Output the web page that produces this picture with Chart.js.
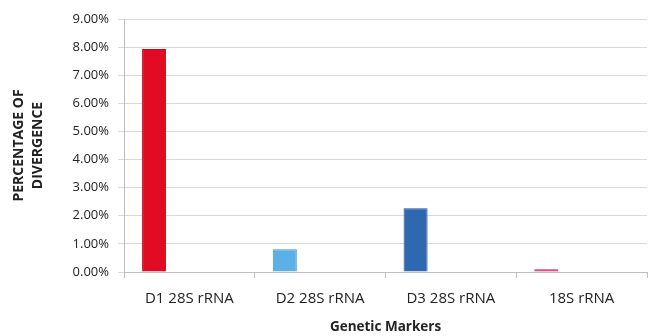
<!DOCTYPE html>
<html>
<head>
<meta charset="utf-8">
<script src="https://cdn.jsdelivr.net/npm/chart.js@4/dist/chart.umd.min.js"></script>
<style>
  html, body { margin: 0; padding: 0; background: #fff; }
  #wrap { width: 649px; height: 336px; }
</style>
</head>
<body>
<div id="wrap"><canvas id="c" width="649" height="336"></canvas></div>
<script>
  // values (percent)
  var markers = ['D1 28S rRNA', 'D2 28S rRNA', 'D3 28S rRNA', '18S rRNA'];
  var divergence = [7.93, 0.81, 2.27, 0.1];
  var barColors = ['#e10c24', '#5cb0e6', '#2d68b0', '#e1236d'];
  var barBorders = ['#c8081d', '#4597cf', '#22548f', '#c81a5c'];

  var font = "'Open Sans', 'Liberation Sans', sans-serif";

  var chart = new Chart(document.getElementById('c').getContext('2d'), {
    type: 'bar',
    data: {
      labels: markers,
      datasets: [
        {
          data: divergence,
          backgroundColor: barColors,
          borderColor: barBorders,
          borderWidth: 1,
          barPercentage: 0.68,
          categoryPercentage: 0.81
        },
        // empty series, as in the original spreadsheet, keep the bars to the left of each slot
        { data: [], barPercentage: 0.68, categoryPercentage: 0.81 },
        { data: [], barPercentage: 0.68, categoryPercentage: 0.81 }
      ]
    },
    options: {
      responsive: false,
      animation: false,
      layout: { padding: { top: 19, right: 2, left: 0, bottom: 0 } },
      plugins: {
        legend: { display: false },
        tooltip: { enabled: false }
      },
      scales: {
        x: {
          grid: {
            drawOnChartArea: false,
            tickLength: 6,
            color: '#bfbfbf'
          },
          border: { color: '#bfbfbf' },
          ticks: {
            color: '#222',
            font: { family: font, size: 15 },
            padding: 12,
            maxRotation: 0
          },
          title: {
            display: true,
            text: 'Genetic Markers',
            color: '#222',
            font: { family: font, size: 13.5, weight: 'bold' },
            padding: { top: 6, bottom: 1 }
          },
          afterFit: function(s) { s.height = 64; }
        },
        y: {
          min: 0,
          max: 9,
          ticks: {
            stepSize: 1,
            color: '#222',
            font: { family: font, size: 13 },
            padding: 9,
            callback: function(v) { return v.toFixed(2) + '%'; }
          },
          grid: {
            color: '#d9d9d9',
            tickLength: 6
          },
          border: { color: '#bfbfbf' },
          title: {
            display: true,
            text: ['PERCENTAGE OF', 'DIVERGENCE'],
            color: '#222',
            font: { family: font, size: 14, weight: 'bold', lineHeight: 1.4 },
            padding: { top: 9, bottom: 0 }
          },
          afterFit: function(s) { s.width = 124; }
        }
      }
    }
  });
</script>
</body>
</html>
